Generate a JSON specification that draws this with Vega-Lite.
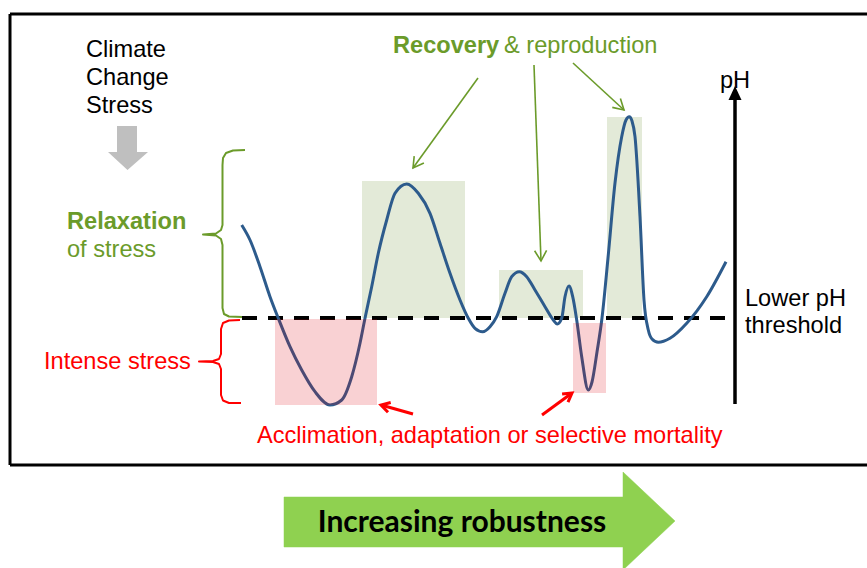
{
  "$schema": "https://vega.github.io/schema/vega-lite/v6.json",
  "width": 867,
  "height": 568,
  "padding": 0,
  "autosize": "none",
  "background": "white",
  "config": {"view": {"stroke": null}},
  "datasets": {
    "border": [
      {"x": 10, "y": 14, "x2": 867, "y2": 14},
      {"x": 10, "y": 14, "x2": 10, "y2": 465},
      {"x": 10, "y": 465, "x2": 867, "y2": 465}
    ],
    "greenBoxes": [
      {"x": 362, "x2": 465, "y": 181, "y2": 318},
      {"x": 499, "x2": 583, "y": 270, "y2": 318},
      {"x": 607, "x2": 642, "y": 117, "y2": 318}
    ],
    "pinkBoxes": [
      {"x": 275, "x2": 377, "y": 319, "y2": 405},
      {"x": 573, "x2": 606, "y": 323, "y2": 393}
    ],
    "threshold": [{"x": 242, "x2": 735, "y": 318}],
    "curve": [
      {"x": 241.7, "y": 225}, {"x": 250, "y": 240}, {"x": 260, "y": 266.7}, {"x": 270, "y": 296.7},
      {"x": 278.3, "y": 318.3}, {"x": 290, "y": 346.7}, {"x": 301.7, "y": 370}, {"x": 315, "y": 391.7},
      {"x": 330, "y": 405}, {"x": 341.7, "y": 400}, {"x": 351.7, "y": 376.7}, {"x": 360, "y": 343.3},
      {"x": 365, "y": 318.3}, {"x": 371.7, "y": 286.7}, {"x": 378.3, "y": 253.3}, {"x": 386.7, "y": 220},
      {"x": 395, "y": 193.3}, {"x": 406.7, "y": 184}, {"x": 418.3, "y": 193.3}, {"x": 430, "y": 213.3},
      {"x": 440, "y": 243.3}, {"x": 450, "y": 273.3}, {"x": 460, "y": 300}, {"x": 468.3, "y": 318.3},
      {"x": 475, "y": 328.3}, {"x": 482.7, "y": 331.7}, {"x": 490, "y": 326.7}, {"x": 496.7, "y": 316.7},
      {"x": 505, "y": 293.3}, {"x": 511.7, "y": 276.7}, {"x": 519.3, "y": 271.7}, {"x": 526.7, "y": 276.7},
      {"x": 535, "y": 290}, {"x": 545, "y": 306.7}, {"x": 553.3, "y": 320}, {"x": 557.3, "y": 324},
      {"x": 561.7, "y": 318.3}, {"x": 565, "y": 296.7}, {"x": 569, "y": 286}, {"x": 572.7, "y": 296.7},
      {"x": 576.7, "y": 320}, {"x": 581.7, "y": 356.7}, {"x": 588.3, "y": 390}, {"x": 592, "y": 382},
      {"x": 597, "y": 352}, {"x": 602, "y": 318}, {"x": 608, "y": 258}, {"x": 615, "y": 183},
      {"x": 621.7, "y": 136.7}, {"x": 626, "y": 120}, {"x": 629.3, "y": 116.7}, {"x": 632, "y": 121},
      {"x": 635, "y": 136.7}, {"x": 640, "y": 216.7}, {"x": 644, "y": 300}, {"x": 648.3, "y": 330},
      {"x": 652, "y": 339}, {"x": 658.3, "y": 342.3}, {"x": 670, "y": 338.3}, {"x": 686.7, "y": 323.3},
      {"x": 706.7, "y": 296.7}, {"x": 726, "y": 261.7}
    ],
    "phAxis": [{"x": 735, "y": 99, "y2": 404}],
    "phHead": [
      {"x": 728.5, "y": 100, "y2": 100},
      {"x": 735, "y": 86, "y2": 100},
      {"x": 741.5, "y": 100, "y2": 100}
    ],
    "braceGreen": [
      {"o": 1, "x": 245, "y": 150}, {"o": 2, "x": 233, "y": 150.5}, {"o": 3, "x": 226, "y": 153},
      {"o": 4, "x": 223, "y": 158}, {"o": 5, "x": 222.5, "y": 165}, {"o": 6, "x": 222.5, "y": 225},
      {"o": 7, "x": 221, "y": 230}, {"o": 8, "x": 216, "y": 233.5}, {"o": 9, "x": 203, "y": 234.5},
      {"o": 10, "x": 216, "y": 235.5}, {"o": 11, "x": 221, "y": 239}, {"o": 12, "x": 222.5, "y": 245},
      {"o": 13, "x": 222.5, "y": 308}, {"o": 14, "x": 224, "y": 314}, {"o": 15, "x": 229, "y": 316.5},
      {"o": 16, "x": 242, "y": 317}
    ],
    "braceRed": [
      {"o": 1, "x": 240, "y": 320}, {"o": 2, "x": 229, "y": 320.5}, {"o": 3, "x": 223, "y": 323},
      {"o": 4, "x": 221, "y": 329}, {"o": 5, "x": 221, "y": 354}, {"o": 6, "x": 219, "y": 359},
      {"o": 7, "x": 213, "y": 361}, {"o": 8, "x": 199, "y": 361.5}, {"o": 9, "x": 213, "y": 362},
      {"o": 10, "x": 219, "y": 364}, {"o": 11, "x": 221, "y": 369}, {"o": 12, "x": 221, "y": 395},
      {"o": 13, "x": 223, "y": 400.5}, {"o": 14, "x": 229, "y": 403}, {"o": 15, "x": 241, "y": 403}
    ],
    "arrowsGreen": [
      {"id": "g1s", "o": 0, "x": 478, "y": 78}, {"id": "g1s", "o": 1, "x": 413, "y": 168},
      {"id": "g1h", "o": 0, "x": 423.9, "y": 163.1}, {"id": "g1h", "o": 1, "x": 413, "y": 168}, {"id": "g1h", "o": 2, "x": 414.2, "y": 156.1},
      {"id": "g2s", "o": 0, "x": 534, "y": 65}, {"id": "g2s", "o": 1, "x": 541, "y": 261},
      {"id": "g2h", "o": 0, "x": 546.6, "y": 250.4}, {"id": "g2h", "o": 1, "x": 541, "y": 261}, {"id": "g2h", "o": 2, "x": 534.6, "y": 250.8},
      {"id": "g3s", "o": 0, "x": 573, "y": 63}, {"id": "g3s", "o": 1, "x": 624, "y": 110},
      {"id": "g3h", "o": 0, "x": 620.4, "y": 98.5}, {"id": "g3h", "o": 1, "x": 624, "y": 110}, {"id": "g3h", "o": 2, "x": 612.3, "y": 107.4}
    ],
    "arrowsRed": [
      {"id": "r1s", "o": 0, "x": 413, "y": 414}, {"id": "r1s", "o": 1, "x": 382, "y": 405.3},
      {"id": "r1h", "o": 0, "x": 388, "y": 412.2}, {"id": "r1h", "o": 1, "x": 381, "y": 405}, {"id": "r1h", "o": 2, "x": 390.7, "y": 402.5},
      {"id": "r2s", "o": 0, "x": 542, "y": 415}, {"id": "r2s", "o": 1, "x": 571, "y": 393.7},
      {"id": "r2h", "o": 0, "x": 562.1, "y": 394.1}, {"id": "r2h", "o": 1, "x": 572, "y": 393}, {"id": "r2h", "o": 2, "x": 568, "y": 402.2}
    ],
    "greyArrow": [
      {"y": 126, "x": 117, "x2": 137},
      {"y": 151.9, "x": 117, "x2": 137},
      {"y": 152, "x": 108, "x2": 148},
      {"y": 170, "x": 127.5, "x2": 127.5}
    ],
    "bigArrow": [
      {"o": 0, "x": 284, "y": 497},
      {"o": 1, "x": 623, "y": 497},
      {"o": 2, "x": 623, "y": 472},
      {"o": 3, "x": 675, "y": 521},
      {"o": 4, "x": 623, "y": 570},
      {"o": 5, "x": 623, "y": 547},
      {"o": 6, "x": 284, "y": 547},
      {"o": 7, "x": 284, "y": 497}
    ],
    "textBlack": [
      {"x": 86, "y": 57, "t": "Climate"},
      {"x": 86, "y": 85, "t": "Change"},
      {"x": 86, "y": 113, "t": "Stress"},
      {"x": 720, "y": 88, "t": "pH"},
      {"x": 745, "y": 306, "t": "Lower pH"},
      {"x": 745, "y": 333, "t": "threshold"}
    ],
    "textGreenBold": [
      {"x": 393, "y": 53, "t": "Recovery"},
      {"x": 67, "y": 229, "t": "Relaxation"}
    ],
    "textGreen": [
      {"x": 504, "y": 53, "t": "& reproduction"},
      {"x": 67, "y": 257, "t": "of stress"}
    ],
    "textRed": [
      {"x": 44, "y": 369, "t": "Intense stress"},
      {"x": 257, "y": 443, "t": "Acclimation, adaptation or selective mortality"}
    ],
    "textBottom": [
      {"x": 462, "y": 532, "t": "Increasing robustness"}
    ]
  },
  "encoding": {
    "x": {"field": "x", "type": "quantitative", "axis": null, "scale": {"domain": [0, 867], "nice": false, "zero": false}},
    "y": {"field": "y", "type": "quantitative", "axis": null, "scale": {"domain": [0, 568], "nice": false, "zero": false, "reverse": true}}
  },
  "layer": [
    {
      "data": {"name": "greenBoxes"},
      "mark": {"type": "rect", "fill": "#e3ead8"},
      "encoding": {"x2": {"field": "x2"}, "y2": {"field": "y2"}}
    },
    {
      "data": {"name": "threshold"},
      "mark": {"type": "rule", "color": "black", "strokeWidth": 4, "strokeDash": [15, 11]},
      "encoding": {"x2": {"field": "x2"}}
    },
    {
      "data": {"name": "curve"},
      "mark": {"type": "line", "interpolate": "monotone", "color": "#2d5b8c", "strokeWidth": 3}
    },
    {
      "data": {"name": "pinkBoxes"},
      "mark": {"type": "rect", "fill": "#de000b", "fillOpacity": 0.18},
      "encoding": {"x2": {"field": "x2"}, "y2": {"field": "y2"}}
    },
    {
      "data": {"name": "phAxis"},
      "mark": {"type": "rule", "color": "black", "strokeWidth": 3.5},
      "encoding": {"y2": {"field": "y2"}}
    },
    {
      "data": {"name": "phHead"},
      "mark": {"type": "area", "color": "black"},
      "encoding": {"y2": {"field": "y2"}}
    },
    {
      "data": {"name": "braceGreen"},
      "mark": {"type": "line", "color": "#6b9b2a", "strokeWidth": 2, "strokeJoin": "round"},
      "encoding": {"order": {"field": "o"}}
    },
    {
      "data": {"name": "braceRed"},
      "mark": {"type": "line", "color": "#ff0000", "strokeWidth": 2, "strokeJoin": "round"},
      "encoding": {"order": {"field": "o"}}
    },
    {
      "data": {"name": "arrowsGreen"},
      "mark": {"type": "line", "color": "#6b9b2a", "strokeWidth": 1.6},
      "encoding": {"detail": {"field": "id"}, "order": {"field": "o"}}
    },
    {
      "data": {"name": "arrowsRed"},
      "mark": {"type": "line", "color": "#ff0000", "strokeWidth": 3},
      "encoding": {"detail": {"field": "id"}, "order": {"field": "o"}}
    },
    {
      "data": {"name": "greyArrow"},
      "mark": {"type": "area", "orient": "horizontal", "color": "#bfbfbf"},
      "encoding": {"x2": {"field": "x2"}}
    },
    {
      "data": {"name": "bigArrow"},
      "mark": {"type": "line", "filled": true, "fill": "#8fd150", "stroke": "#8fd150", "strokeWidth": 0.5},
      "encoding": {"order": {"field": "o"}}
    },
    {
      "data": {"name": "border"},
      "mark": {"type": "rule", "color": "black", "strokeWidth": 3},
      "encoding": {"x2": {"field": "x2"}, "y2": {"field": "y2"}}
    },
    {
      "data": {"name": "textBlack"},
      "mark": {"type": "text", "align": "left", "baseline": "alphabetic", "font": "Liberation Sans", "fontSize": 23.6, "color": "black"},
      "encoding": {"text": {"field": "t"}}
    },
    {
      "data": {"name": "textGreenBold"},
      "mark": {"type": "text", "align": "left", "baseline": "alphabetic", "font": "Liberation Sans", "fontSize": 23.6, "fontWeight": "bold", "color": "#6b9b2a"},
      "encoding": {"text": {"field": "t"}}
    },
    {
      "data": {"name": "textGreen"},
      "mark": {"type": "text", "align": "left", "baseline": "alphabetic", "font": "Liberation Sans", "fontSize": 23.6, "color": "#6b9b2a"},
      "encoding": {"text": {"field": "t"}}
    },
    {
      "data": {"name": "textRed"},
      "mark": {"type": "text", "align": "left", "baseline": "alphabetic", "font": "Liberation Sans", "fontSize": 23.6, "color": "#ff0000"},
      "encoding": {"text": {"field": "t"}}
    },
    {
      "data": {"name": "textBottom"},
      "mark": {"type": "text", "align": "center", "baseline": "alphabetic", "font": "Lato", "fontSize": 30, "fontWeight": "bold", "color": "black"},
      "encoding": {"text": {"field": "t"}}
    }
  ]
}
